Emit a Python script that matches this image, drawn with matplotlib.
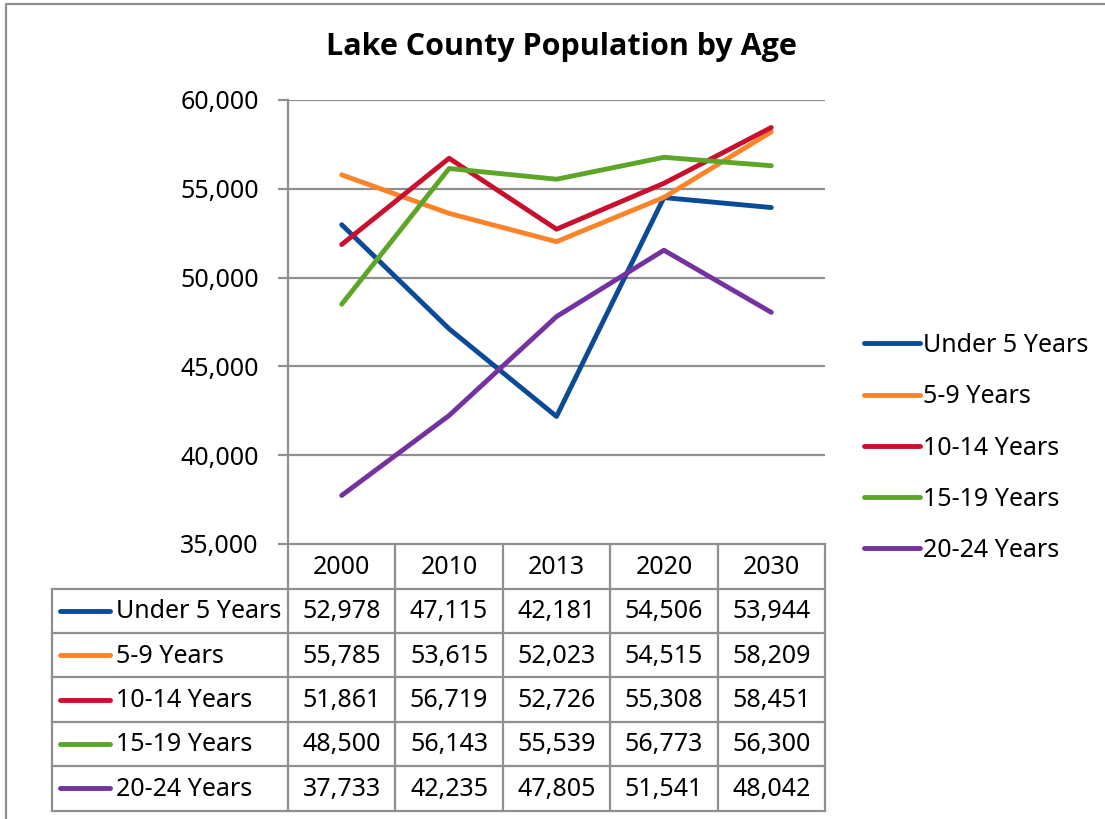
import matplotlib
matplotlib.use('Agg')
import matplotlib.pyplot as plt
from matplotlib.lines import Line2D

plt.rcParams['font.family'] = ['Noto Sans', 'DejaVu Sans']

years = ['2000', '2010', '2013', '2020', '2030']
series_names = ['Under 5 Years', '5-9 Years', '10-14 Years', '15-19 Years', '20-24 Years']
under_5 = [52978, 47115, 42181, 54506, 53944]
age_5_9 = [55785, 53615, 52023, 54515, 58209]
age_10_14 = [51861, 56719, 52726, 55308, 58451]
age_15_19 = [48500, 56143, 55539, 56773, 56300]
age_20_24 = [37733, 42235, 47805, 51541, 48042]
series_values = [under_5, age_5_9, age_10_14, age_15_19, age_20_24]
series_colors = ['#0a4a97', '#fd8328', '#c8102e', '#5ca526', '#7432a0']

W, H = 1105, 819
GRID = '#8f8f8f'
FS = 18
LW = 3.5

fig = plt.figure(figsize=(W / 100, H / 100), dpi=100)

# plot area in pixel coordinates (left, top, right, bottom)
px_l, px_t, px_r, px_b = 288, 100, 825, 544
ax = fig.add_axes([px_l / W, 1 - px_b / H, (px_r - px_l) / W, (px_b - px_t) / H])
for i, (name, vals) in enumerate(zip(series_names, series_values)):
    ax.plot(range(len(years)), vals, color=series_colors[i], lw=LW,
            solid_capstyle='round', solid_joinstyle='round', label=name, zorder=3)
ax.set_xlim(-0.5, len(years) - 0.5)
ax.set_ylim(35000, 60000)
ax.set_yticks(range(35000, 60001, 5000))
ax.set_yticklabels([f'{v:,}' for v in range(35000, 60001, 5000)], fontsize=FS)
ax.set_xticks([])
ax.grid(axis='y', color=GRID, lw=1.6, zorder=1)
for side in ['top', 'right', 'bottom']:
    ax.spines[side].set_visible(False)
ax.spines['left'].set_color(GRID)
ax.spines['left'].set_linewidth(1.6)
ax.tick_params(axis='y', length=7, width=1.6, color=GRID, pad=14)

# legend on the right
handles = [Line2D([], [], color=c, lw=LW, solid_capstyle='round') for c in series_colors]
fig.legend(handles, series_names, loc='center left',
           bbox_to_anchor=(851 / W, 1 - 448 / H), frameon=False, fontsize=FS,
           handlelength=2.25, handletextpad=0.12, labelspacing=1.05, borderpad=0)

fig.text(561 / W, 1 - 47 / H, 'Lake County Population by Age', ha='center', va='center',
         fontsize=22, fontweight='bold', family=['Open Sans', 'DejaVu Sans'])

# data table drawn in pixel space
tax = fig.add_axes([0, 0, 1, 1], zorder=-1)
tax.set_xlim(0, W)
tax.set_ylim(H, 0)
tax.axis('off')

tbl_l = 52
col_w = (px_r - px_l) / len(years)
head_b = 588.5
row_h = 44.4
n_rows = len(series_names)
tbl_b = head_b + n_rows * row_h

# horizontal rules
tax.plot([px_l, px_r], [px_b, px_b], color=GRID, lw=1.6)
for r in range(n_rows + 1):
    y = head_b + r * row_h
    tax.plot([tbl_l, px_r], [y, y], color=GRID, lw=1.6)
# vertical rules
tax.plot([tbl_l, tbl_l], [head_b, tbl_b], color=GRID, lw=1.6)
for c in range(len(years) + 1):
    x = px_l + c * col_w
    tax.plot([x, x], [px_b, tbl_b], color=GRID, lw=1.6)

for c, yr in enumerate(years):
    tax.text(px_l + (c + 0.5) * col_w, (px_b + head_b) / 2 + 1, yr, ha='center', va='center',
             fontsize=FS)
for r, (name, vals) in enumerate(zip(series_names, series_values)):
    yc = head_b + (r + 0.5) * row_h
    tax.plot([60, 110], [yc, yc], color=series_colors[r], lw=LW, solid_capstyle='round')
    tax.text(116, yc + 1, name, ha='left', va='center', fontsize=FS)
    for c, v in enumerate(vals):
        tax.text(px_l + (c + 0.5) * col_w, yc + 1, f'{v:,}', ha='center', va='center',
                 fontsize=FS)

# chart frame (left and top edges only)
tax.plot([6, 6, W + 5], [H + 5, 4, 4], color=GRID, lw=1.6, clip_on=False)

fig.savefig('out.png', dpi=100)
